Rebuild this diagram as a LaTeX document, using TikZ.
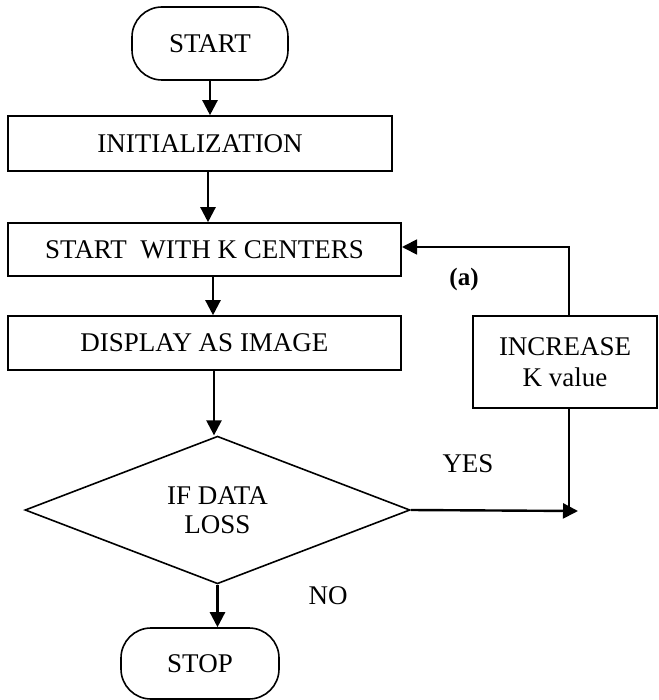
\documentclass[tikz,border=0pt]{standalone}
\usepackage{fontspec}
\setmainfont{Liberation Serif}
\usetikzlibrary{arrows.meta,shapes.geometric}
\begin{document}
\begin{tikzpicture}[x=1pt,y=-1pt,
  font=\fontsize{27}{31}\selectfont,
  box/.style={draw,line width=1.6pt,inner sep=0pt,align=center},
  term/.style={box,rounded corners=30pt},
  dec/.style={draw,line width=1.6pt,diamond,inner sep=0pt,align=center},
  flow/.style={line width=2.4pt,-{Triangle[length=15pt,width=15pt]}},
  thin/.style={line width=1.8pt},
  lbl/.style={inner sep=0pt}]
\useasboundingbox (0,0) rectangle (658,700);
\node[term,minimum width=156pt,minimum height=73pt] (start) at (210,43.5) {START};
\node[box,minimum width=384pt,minimum height=55pt] (init) at (200,143.5) {INITIALIZATION};
\node[box,minimum width=393pt,minimum height=53pt] (kc) at (204.5,249.5) {START\ \ WITH K CENTERS};
\node[box,minimum width=393pt,minimum height=54pt] (disp) at (204.5,343) {DISPLAY AS IMAGE};
\node[dec,minimum width=385pt,minimum height=146pt] (loss) at (217.5,510) {IF DATA\\[-2pt]LOSS};
\node[term,minimum width=158pt,minimum height=71pt] (stop) at (200,663.5) {STOP};
\node[box,minimum width=184pt,minimum height=92pt] (inc) at (565,362) {INCREASE\\K value};
\node[lbl,font=\fontsize{25}{28}\selectfont\bfseries] (a) at (464,279) {(a)};
\node[lbl] (yes) at (468,464) {YES};
\node[lbl] (no) at (328,596) {NO};
\coordinate (tip) at (578,511);
\coordinate (join) at (569,511);
\coordinate (up) at (569,247);
\coordinate (back) at (402,247);
\draw[flow] (210,80) -- (init.north -| 210,0);
\draw[flow] (init.south -| 208,0) -- (kc.north -| 208,0);
\draw[flow] (kc.south -| 213,0) -- (disp.north -| 213,0);
\draw[flow] (disp.south -| 214,0) -- (loss.north -| 214,0);
\draw[flow] (loss.south) -- (stop.north -| loss.south);
\draw[flow] (loss.east) -- (tip);
\draw[thin] (inc.south -| join) -- (join);
\draw[thin,-{Triangle[length=15pt,width=15pt]}] (inc.north -| up) -- (up) -- (back);
\end{tikzpicture}
\end{document}
